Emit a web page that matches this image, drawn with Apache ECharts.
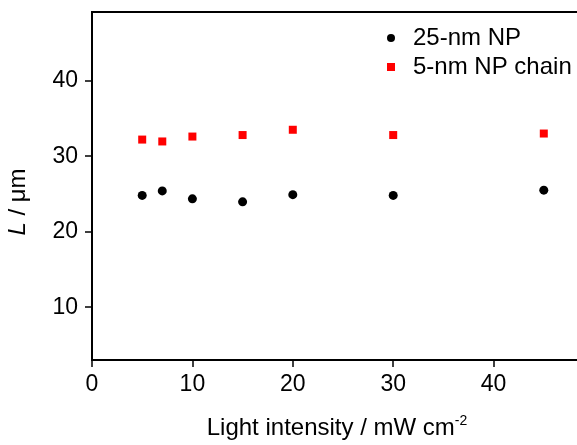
<!DOCTYPE html>
<html>
<head>
<meta charset="utf-8">
<script src="https://cdn.jsdelivr.net/npm/echarts@6/dist/echarts.min.js"></script>
<style>html,body{margin:0;padding:0;background:#fff}#c{width:577px;height:445px}</style>
</head>
<body>
<div id="c"></div>
<script>
const intensity = [5, 7, 10, 15, 20, 30, 45];
const np25 = [24.8, 25.4, 24.35, 23.95, 24.9, 24.8, 25.5];
const np5chain = [32.2, 31.95, 32.6, 32.8, 33.5, 32.8, 33.0];
const xTicks = [0, 10, 20, 30, 40];
const yTicks = [10, 20, 30, 40];
const seriesNames = ['25-nm NP', '5-nm NP chain'];

const font = 'Liberation Sans, Arial, sans-serif';
const chart = echarts.init(document.getElementById('c'), null, {renderer: 'canvas'});
chart.setOption({
  animation: false,
  backgroundColor: '#fff',
  grid: {left: 92, top: 12, width: 502, height: 348, outerBoundsMode: 'none', containLabel: false,
    show: true, borderColor: '#000', borderWidth: 2, backgroundColor: 'transparent'},
  legend: {
    orient: 'vertical', left: 382, top: 21, itemWidth: 8, itemHeight: 8, itemGap: 5,
    textStyle: {fontFamily: font, fontSize: 24, color: '#000', padding: [0, 0, 0, 13]},
    data: [{name: seriesNames[0], icon: 'circle'}, {name: seriesNames[1], icon: 'rect'}]
  },
  xAxis: {
    type: 'value', min: 0, max: 50,
    axisLine: {lineStyle: {color: '#000', width: 2}},
    axisTick: {show: true, length: 7, lineStyle: {color: '#000', width: 1.5}, customValues: xTicks},
    axisLabel: {fontFamily: font, fontSize: 23, color: '#000', margin: 13, customValues: xTicks},
    splitLine: {show: false},
    name: 'Light intensity / mW cm{sup|-2}', nameLocation: 'middle', nameGap: 54,
    nameTextStyle: {fontFamily: font, fontSize: 24, color: '#000', padding: [0, 12, 0, 0],
      rich: {sup: {fontFamily: font, fontSize: 14, color: '#000', verticalAlign: 'top', padding: [0, 0, 14, 0]}}}
  },
  yAxis: {
    type: 'value', min: 3, max: 49.1,
    axisLine: {show: true, lineStyle: {color: '#000', width: 2}},
    axisTick: {show: true, length: 7, lineStyle: {color: '#000', width: 1.5}, customValues: yTicks},
    axisLabel: {fontFamily: font, fontSize: 23, color: '#000', margin: 14, customValues: yTicks},
    splitLine: {show: false},
    name: '{i|L} / μm', nameLocation: 'middle', nameGap: 62,
    nameTextStyle: {fontFamily: font, fontSize: 24, color: '#000', padding: [0, 32, 0, 0],
      rich: {i: {fontFamily: font, fontSize: 24, fontStyle: 'italic', color: '#000'}}}
  },
  series: [
    {name: seriesNames[0], type: 'scatter', symbol: 'circle', symbolSize: 9,
     itemStyle: {color: '#000', opacity: 1}, data: intensity.map((x, i) => [x, np25[i]])},
    {name: seriesNames[1], type: 'scatter', symbol: 'rect', symbolSize: 8,
     itemStyle: {color: '#ff0000', opacity: 1}, data: intensity.map((x, i) => [x, np5chain[i]])}
  ]
});
</script>
</body>
</html>
